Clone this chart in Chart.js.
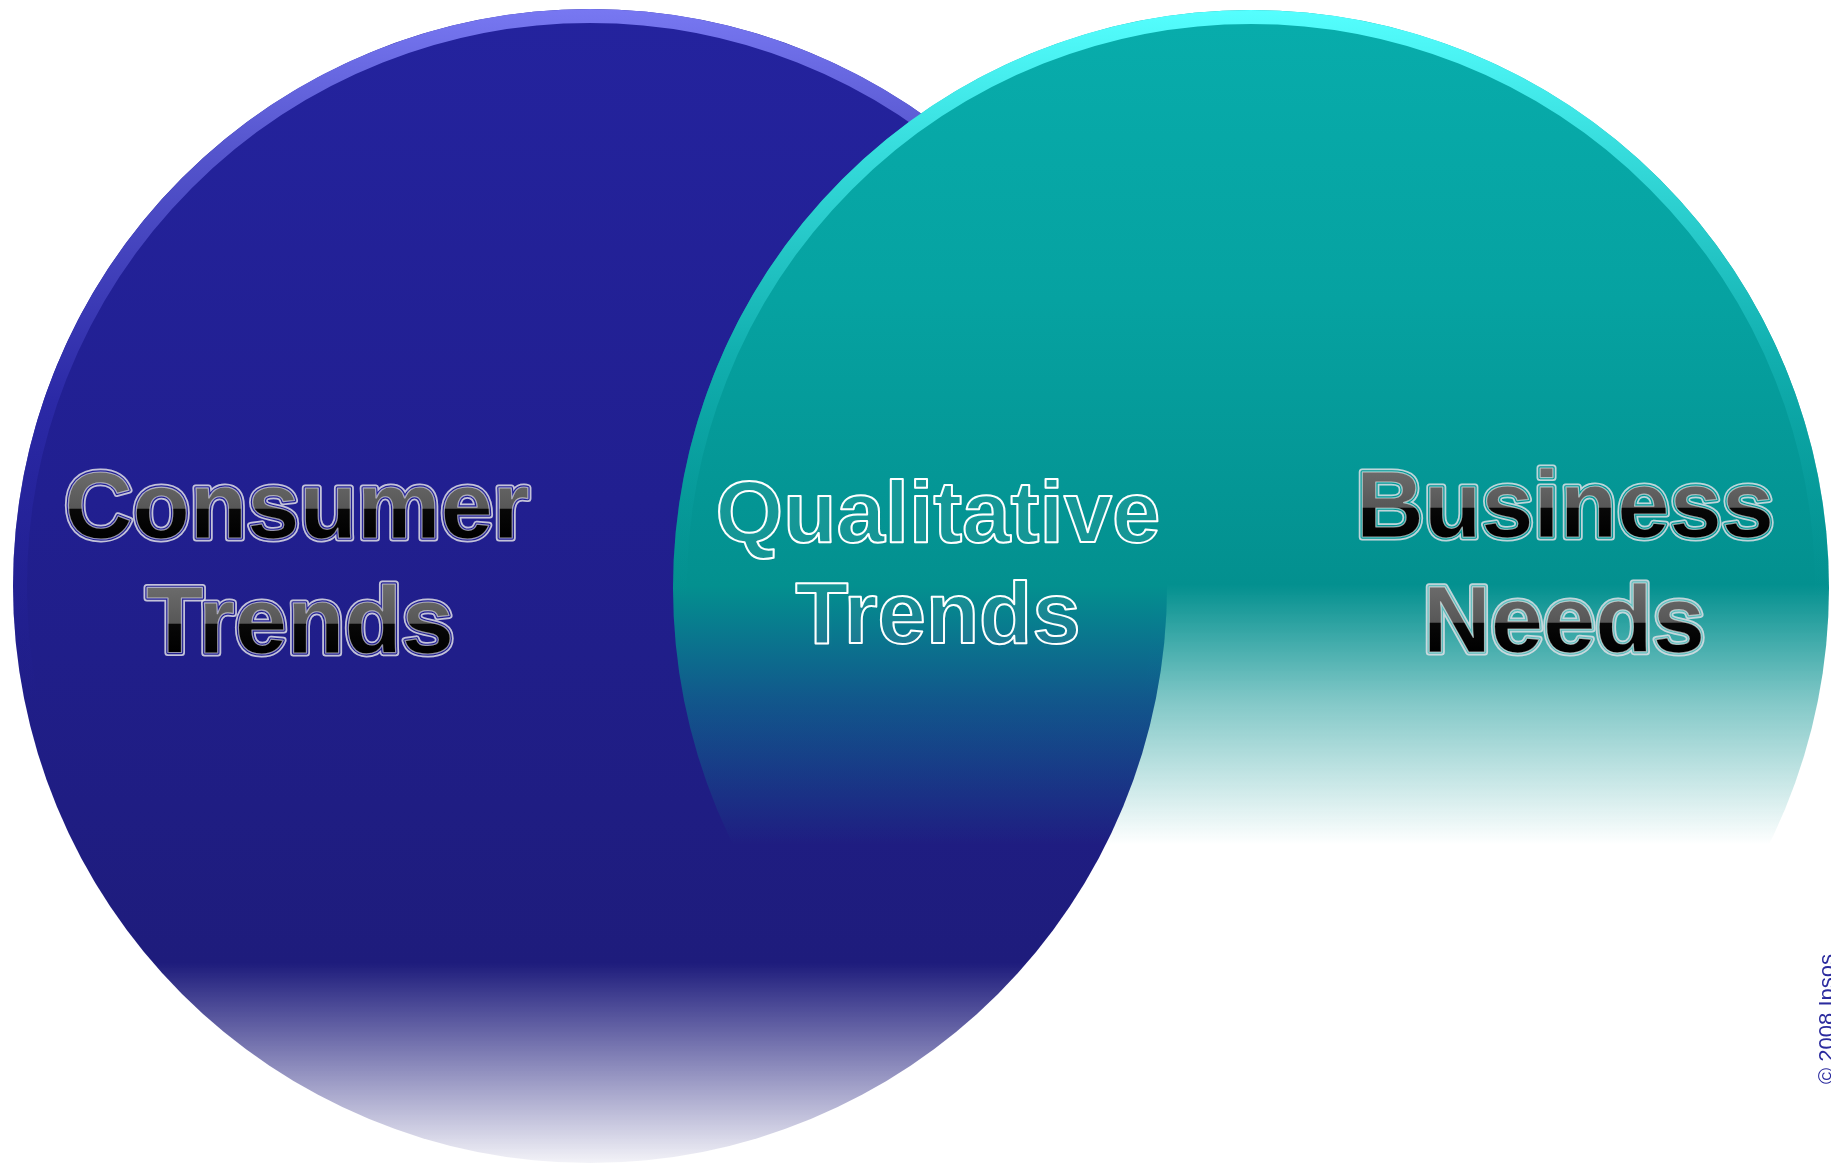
<!DOCTYPE html>
<html>
<head>
<meta charset="utf-8">
<title>Consumer Trends / Business Needs</title>
<script src="https://cdn.jsdelivr.net/npm/chart.js@4.4.1/dist/chart.umd.min.js"></script>
<style>
    html, body { margin: 0; padding: 0; background: #fff; }
    #wrap { width: 1831px; height: 1164px; }
</style>
</head>
<body>
<div id="wrap"><canvas id="venn" width="1831" height="1164"></canvas></div>
<script>
// venn circles, in drawing units (x left->right, y top->bottom)
const circleNames = ['Consumer Trends', 'Business Needs'];
const centerX = [590, 1251];
const centerY = [586, 588];
const radii = [577, 578];
const overlapName = 'Qualitative Trends';
const copyright = '\u00a9 2008 Ipsos';

const xRange = [0, 1831];
const yRange = [0, 1164];

const RIM = 14;
const FONT = '"Liberation Sans", Arial, sans-serif';

function vGrad(chart, stops) {
    const y = chart.scales.y;
    const g = chart.ctx.createLinearGradient(0, y.getPixelForValue(yRange[0]), 0, y.getPixelForValue(yRange[1]));
    stops.forEach(([v, c]) => g.addColorStop((v - yRange[0]) / (yRange[1] - yRange[0]), c));
    return g;
}

const fills = [
    [[0, '#24239e'], [500, '#211f90'], [963, '#1e1c7c'], [1164, 'rgba(30,28,124,0.05)']],
    [[0, '#08adac'], [300, '#06a2a1'], [585, '#03908f'], [700, 'rgba(3,144,143,0.5)'], [845, 'rgba(3,144,143,0)']]
];
const rims = [
    [[8, '#7878f2'], [150, '#5555cd'], [400, '#2b29a6'], [700, 'rgba(34,32,150,0)']],
    [[8, '#55ffff'], [150, '#36dcdc'], [350, '#12b0b0'], [600, 'rgba(5,150,150,0)']]
];

// circles are drawn from the dataset points, radius taken through the x scale
const circlePlugin = {
    id: 'vennCircles',
    beforeDatasetsDraw(chart) {
        const { ctx, scales: { x } } = chart;
        chart.data.datasets.forEach((ds, i) => {
            const pt = chart.getDatasetMeta(i).data[0];
            const r = x.getPixelForValue(ds.data[0].x + radii[i]) - pt.x;
            ctx.save();
            ctx.beginPath();
            ctx.arc(pt.x, pt.y, r, 0, Math.PI * 2);
            ctx.fillStyle = vGrad(chart, fills[i]);
            ctx.fill();
            ctx.beginPath();
            ctx.arc(pt.x, pt.y, r - RIM / 2, 0, Math.PI * 2);
            ctx.lineWidth = RIM;
            ctx.strokeStyle = vGrad(chart, rims[i]);
            ctx.stroke();
            ctx.restore();
        });
    }
};

function glossyText(ctx, text, px, base, size, bg) {
    ctx.font = `bold ${size}px ${FONT}`;
    ctx.textAlign = 'center';
    ctx.textBaseline = 'alphabetic';
    ctx.lineJoin = 'round';
    const cap = size * 0.72;
    const g = ctx.createLinearGradient(0, base - cap, 0, base);
    g.addColorStop(0, '#6c6c6c');
    g.addColorStop(0.56, '#575757');
    g.addColorStop(0.575, '#080808');
    g.addColorStop(1, '#000');
    ctx.lineWidth = 7;
    ctx.strokeStyle = 'rgba(225,225,230,0.85)';
    ctx.strokeText(text, px, base);
    ctx.lineWidth = 3.5;
    ctx.strokeStyle = bg;
    ctx.strokeText(text, px, base);
    ctx.fillStyle = g;
    ctx.fillText(text, px, base);
    ctx.lineWidth = 1.2;
    ctx.strokeStyle = 'rgba(255,255,255,0.55)';
    ctx.strokeText(text, px, base);
}

function outlineText(ctx, text, px, base, size) {
    ctx.font = `bold ${size}px ${FONT}`;
    ctx.textAlign = 'center';
    ctx.textBaseline = 'alphabetic';
    ctx.lineJoin = 'round';
    ctx.save();
    ctx.shadowColor = 'rgba(40,40,40,0.45)';
    ctx.shadowOffsetX = 2;
    ctx.shadowOffsetY = 2;
    ctx.shadowBlur = 1;
    ctx.fillStyle = 'rgba(255,255,255,0.07)';
    ctx.fillText(text, px, base);
    ctx.restore();
    ctx.lineWidth = 2;
    ctx.strokeStyle = '#ffffff';
    ctx.strokeText(text, px, base);
}

const labelPlugin = {
    id: 'vennLabels',
    afterDatasetsDraw(chart) {
        const { ctx, scales: { x, y } } = chart;
        ctx.save();

        const [c1, c2] = circleNames.map(n => n.split(' '));
        glossyText(ctx, c1[0], x.getPixelForValue(297), y.getPixelForValue(538), 94, '#211f92');
        glossyText(ctx, c1[1], x.getPixelForValue(300), y.getPixelForValue(653), 94, '#211f8e');
        glossyText(ctx, c2[0], x.getPixelForValue(1565), y.getPixelForValue(537), 94, '#049796');
        glossyText(ctx, c2[1], x.getPixelForValue(1564), y.getPixelForValue(652), 94, '#5fbcbc');

        const q = overlapName.split(' ');
        outlineText(ctx, q[0], x.getPixelForValue(938), y.getPixelForValue(542), 87);
        outlineText(ctx, q[1], x.getPixelForValue(938), y.getPixelForValue(643), 87);

        // copyright, rotated along the right edge
        ctx.translate(x.getPixelForValue(1834), y.getPixelForValue(1084));
        ctx.rotate(-Math.PI / 2);
        ctx.font = `22px ${FONT}`;
        ctx.textAlign = 'left';
        ctx.fillStyle = '#2b2b9e';
        ctx.fillText(copyright, 0, 0);
        ctx.restore();
    }
};

const datasets = circleNames.map((name, i) => ({
    label: name,
    data: [{ x: centerX[i], y: centerY[i] }],
    pointRadius: 0,
    clip: false
}));

new Chart(document.getElementById('venn'), {
    type: 'scatter',
    data: { datasets },
    options: {
        responsive: false,
        animation: false,
        events: [],
        layout: { padding: 0 },
        scales: {
            x: { type: 'linear', display: false, min: xRange[0], max: xRange[1] },
            y: { type: 'linear', display: false, min: yRange[0], max: yRange[1], reverse: true }
        },
        plugins: {
            legend: { display: false },
            tooltip: { enabled: false }
        }
    },
    plugins: [circlePlugin, labelPlugin]
});
</script>
</body>
</html>
